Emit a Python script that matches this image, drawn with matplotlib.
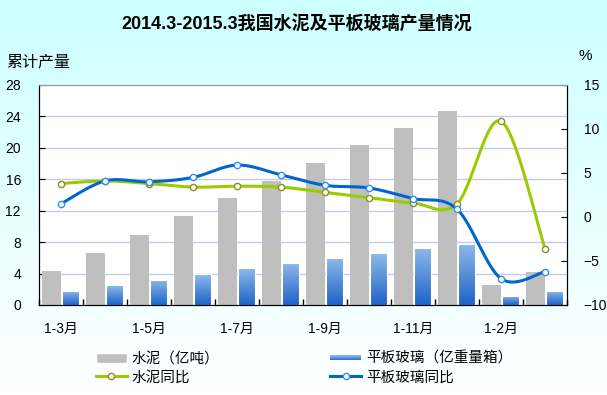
import numpy as np
import matplotlib
matplotlib.use("Agg")
import matplotlib.pyplot as plt
from matplotlib.patches import Rectangle
from matplotlib.lines import Line2D
from matplotlib.colors import LinearSegmentedColormap
from matplotlib.legend_handler import HandlerBase

plt.rcParams['font.family'] = ['Liberation Sans', 'Noto Sans CJK SC', 'DejaVu Sans']

# 数据
months = ["1-3月", "1-4月", "1-5月", "1-6月", "1-7月", "1-8月", "1-9月",
          "1-10月", "1-11月", "1-12月", "1-2月", "1-3月"]
cement = [4.3, 6.6, 8.9, 11.3, 13.6, 15.8, 18.1, 20.4, 22.5, 24.7, 2.5, 4.2]
glass = [1.8, 2.5, 3.2, 3.9, 4.7, 5.4, 6.0, 6.6, 7.3, 7.8, 1.2, 1.8]
cement_yoy = [3.8, 4.1, 3.8, 3.4, 3.5, 3.4, 2.8, 2.2, 1.6, 1.5, 10.9, -3.6]
glass_yoy = [1.5, 4.1, 4.0, 4.5, 5.9, 4.8, 3.6, 3.3, 2.1, 0.9, -7.0, -6.2]

green = "#99CC00"
blue = "#0066CC"
gray = "#BFBFBF"
bar_cmap = LinearSegmentedColormap.from_list("g", ["#1F62C8", "#8EBBE8"])


def smooth(xs, ys, n=30):
    # 平滑曲线 (类似 Excel 的平滑线)
    p = np.column_stack([xs, ys]).astype(float)
    out = []
    for i in range(len(p) - 1):
        p0 = p[i - 1] if i > 0 else p[i]
        p1, p2 = p[i], p[i + 1]
        p3 = p[i + 2] if i + 2 < len(p) else p[i + 1]
        c1 = p1 + (p2 - p0) / 6
        c2 = p2 - (p3 - p1) / 6
        t = np.linspace(0, 1, n)[:, None]
        seg = (1 - t) ** 3 * p1 + 3 * (1 - t) ** 2 * t * c1 + 3 * (1 - t) * t ** 2 * c2 + t ** 3 * p2
        out.append(seg)
    out = np.vstack(out)
    return out[:, 0], out[:, 1]


fig = plt.figure(figsize=(6.07, 3.95), dpi=100)

# 背景渐变
bg = fig.add_axes([0, 0, 1, 1], zorder=-5)
grad = np.linspace(0, 1, 256)[:, None]
bg_cmap = LinearSegmentedColormap.from_list("bg", ["#FFFFFF", "#CCFFFF"])
bg.imshow(grad, aspect="auto", cmap=bg_cmap, origin="lower", extent=[0, 1, 0, 1])
bg.axis("off")

ax = fig.add_axes([39 / 607, 1 - 305 / 395, 528 / 607, 220 / 395])
ax.set_facecolor("white")
x = np.arange(len(months))

ax.bar(x - 0.215, cement, width=0.43, color=gray, zorder=2)
for xi, h in zip(x, glass):
    x0 = xi + 0.02
    w = 0.39
    rect = Rectangle((x0, 0), w, h, facecolor="none", edgecolor="white", lw=0.8, zorder=3)
    ax.add_patch(rect)
    im = ax.imshow(grad, extent=[x0, x0 + w, 0, h], aspect="auto", cmap=bar_cmap,
                   origin="lower", zorder=2.5)
    im.set_clip_path(rect)

ax.set_xlim(-0.5, 11.5)
ax.set_ylim(0, 28)
ax.set_yticks(range(0, 29, 4))
ax.set_axisbelow(True)
ax.yaxis.grid(True, color="#C8C8F5", lw=1)
ax.set_xticks(x[::2])
ax.set_xticklabels(months[::2], fontsize=10)
ax.set_xticks(np.arange(-0.5, 12, 1), minor=True)
ax.tick_params(axis="x", which="major", length=0, pad=12)
ax.tick_params(axis="x", which="minor", direction="in", length=4, width=1)
ax.tick_params(axis="y", direction="in", length=4, labelsize=10, pad=13)

ax2 = ax.twinx()
ax2.set_ylim(-10, 15)
ax2.set_yticks(range(-10, 16, 5))
ax2.tick_params(axis="y", direction="in", length=4, labelsize=10, pad=12)
for a in (ax, ax2):
    a.spines["top"].set_color("#999999")

sx, sy = smooth(x, cement_yoy)
ax2.plot(sx, sy, color=green, lw=2.2, zorder=4)
ax2.plot(x, cement_yoy, "o", ms=4.5, mfc="#FFFFE8", mec="#8C8C30", mew=1, zorder=5)
sx, sy = smooth(x, glass_yoy)
ax2.plot(sx, sy, color=blue, lw=2.2, zorder=4)
ax2.plot(x, glass_yoy, "o", ms=4.5, mfc="white", mec="#3090F0", mew=1, zorder=5)

# 标题和轴标题
fig.text(297 / 607, 1 - 25 / 395, "2014.3-2015.3我国水泥及平板玻璃产量情况", ha="center", va="center",
         fontsize=13, fontweight="bold")
fig.text(6 / 607, 1 - 62 / 395, "累计产量", ha="left", va="center", fontsize=11.5)
fig.text(585 / 607, 1 - 56 / 395, "%", ha="center", va="center", fontsize=11)


class GradHandler(HandlerBase):
    def create_artists(self, legend, orig, xd, yd, width, height, fontsize, trans):
        arts = []
        n = 6
        for k in range(n):
            c = bar_cmap(1 - k / (n - 1))
            arts.append(Rectangle((xd, yd + height * 0.25 + height * 0.5 * (n - 1 - k) / n), width,
                                  height * 0.5 / n, facecolor=c, edgecolor="none", transform=trans))
        return arts


h1 = Rectangle((0, 0), 1, 1, facecolor=gray, edgecolor="white")
h2 = Rectangle((0, 0), 1, 1)
h3 = Line2D([], [], color=green, lw=2.2, marker="o", ms=4.5, mfc="#FFFFE8", mec="#8C8C30")
h4 = Line2D([], [], color=blue, lw=2.2, marker="o", ms=4.5, mfc="white", mec="#3090F0")
fig.legend([h1, h3, h2, h4], ["水泥（亿吨）", "水泥同比", "平板玻璃（亿重量箱）", "平板玻璃同比"],
           handler_map={h2: GradHandler()}, ncol=2, frameon=False, fontsize=10.5,
           loc="upper left", bbox_to_anchor=(96 / 607, 1 - 352 / 395), borderpad=0,
           borderaxespad=0, handlelength=2.1, handletextpad=0.35, columnspacing=7.6,
           labelspacing=0.3)

fig.savefig("out.png", dpi=100)
